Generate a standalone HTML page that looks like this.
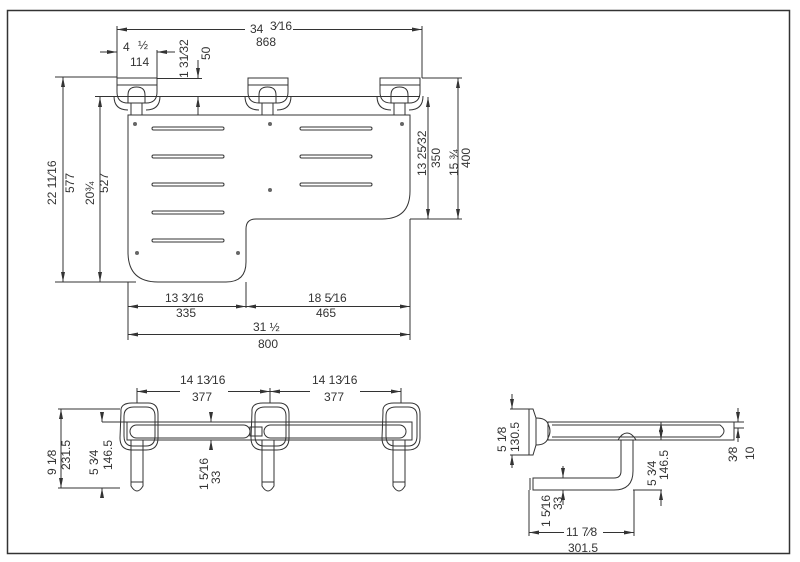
<!DOCTYPE html>
<html><head><meta charset="utf-8"><style>
html,body{margin:0;padding:0;background:#fff}
svg{display:block}
text{font-family:"Liberation Sans",sans-serif;font-size:12px;fill:#333}
</style></head><body>
<svg width="800" height="562" viewBox="0 0 800 562" xmlns="http://www.w3.org/2000/svg">
<defs>
<marker id="a" markerWidth="10" markerHeight="6" refX="10" refY="3" orient="auto-start-reverse" markerUnits="userSpaceOnUse"><path d="M0,1 L10,3 L0,5z" fill="#333"/></marker>
</defs>
<rect x="7.5" y="10.5" width="782" height="543" fill="none" stroke="#333" stroke-width="1.5"/>
<g fill="none" stroke="#333" stroke-width="1">
<g id="br">
<path d="M117,78 H157 V92 Q157,103 146,103 H128 Q117,103 117,92 Z"/>
<line x1="117" y1="85" x2="157" y2="85"/>
<path d="M128,103 V95 Q128,87 136.5,87 Q145,87 145,95 V103"/>
<rect x="131" y="103" width="11" height="12"/>
<path d="M114,96 Q114,110 128,110 M160,96 Q160,110 146,110"/>
</g>
<use href="#br" x="131"/>
<use href="#br" x="263"/>
<line x1="95" y1="96.5" x2="420" y2="96.5"/>
<path d="M128,115 H410 V191 Q410,219 382,219 H256 Q246,219 246,229 V262 Q246,282 226,282 H158 Q128,282 128,252 Z"/>
<g fill="#666" stroke="none">
<circle cx="135" cy="124" r="2"/><circle cx="270" cy="124" r="2"/><circle cx="402" cy="124" r="2"/>
<circle cx="270" cy="190" r="2"/><circle cx="137" cy="253" r="2"/><circle cx="238" cy="253" r="2"/>
</g>
<g>
<rect x="152" y="127" width="72" height="3" rx="1.5"/>
<rect x="152" y="155" width="72" height="3" rx="1.5"/>
<rect x="152" y="183" width="72" height="3" rx="1.5"/>
<rect x="152" y="211" width="72" height="3" rx="1.5"/>
<rect x="152" y="239" width="72" height="3" rx="1.5"/>
<rect x="300" y="127" width="72" height="3" rx="1.5"/>
<rect x="300" y="155" width="72" height="3" rx="1.5"/>
<rect x="300" y="183" width="72" height="3" rx="1.5"/>
</g>
<line x1="117" y1="26" x2="117" y2="78"/><line x1="422" y1="26" x2="422" y2="78"/>
<line x1="117" y1="29.5" x2="245" y2="29.5" marker-start="url(#a)"/><line x1="293" y1="29.5" x2="422" y2="29.5" marker-end="url(#a)"/>
<line x1="157" y1="50" x2="157" y2="78"/>
<line x1="100" y1="52" x2="117" y2="52" marker-end="url(#a)"/><line x1="175" y1="52" x2="157" y2="52" marker-end="url(#a)"/>
<line x1="157" y1="78.5" x2="202" y2="78.5"/>
<line x1="198" y1="60" x2="198" y2="78" marker-end="url(#a)"/><line x1="198" y1="115" x2="198" y2="97" marker-end="url(#a)"/>
<line x1="55" y1="77" x2="117" y2="77"/><line x1="55" y1="282" x2="136" y2="282"/>
<line x1="63" y1="77" x2="63" y2="282" marker-start="url(#a)" marker-end="url(#a)"/>
<line x1="100" y1="97" x2="100" y2="282" marker-start="url(#a)" marker-end="url(#a)"/>
<line x1="410" y1="219" x2="462" y2="219"/><line x1="422" y1="78" x2="462" y2="78"/>
<line x1="428" y1="97" x2="428" y2="219" marker-start="url(#a)" marker-end="url(#a)"/>
<line x1="458" y1="78" x2="458" y2="219" marker-start="url(#a)" marker-end="url(#a)"/>
<line x1="128" y1="282" x2="128" y2="340"/><line x1="410" y1="219" x2="410" y2="340"/><line x1="246" y1="282" x2="246" y2="308"/>
<line x1="128" y1="306.5" x2="246" y2="306.5" marker-start="url(#a)" marker-end="url(#a)"/>
<line x1="246" y1="306.5" x2="410" y2="306.5" marker-start="url(#a)" marker-end="url(#a)"/>
<line x1="128" y1="334.5" x2="410" y2="334.5" marker-start="url(#a)" marker-end="url(#a)"/>

<g id="fb">
<path d="M121,412 Q120,403 132,403 H148 Q158,403 158,414 V438 Q158,450 146,450 H132 Q120,450 120,438 Z"/>
<path d="M124,416 Q124,407 134,407 H146 Q155,407 155,416 V436 Q155,446 146,446 H133 Q124,446 124,436 Z"/>
<rect x="131" y="440" width="12" height="42"/>
<path d="M131,482 V486 Q137,496 143,486 V482"/>
</g>
<use href="#fb" x="131"/>
<use href="#fb" x="262"/>
<rect x="127" y="422" width="285" height="18"/>
<rect x="130" y="425" width="120" height="13" rx="6.5"/>
<rect x="264" y="425" width="142" height="13" rx="6.5"/>
<rect x="250" y="427" width="12" height="9"/>
<line x1="137" y1="388" x2="137" y2="403"/><line x1="270" y1="388" x2="270" y2="403"/><line x1="401" y1="388" x2="401" y2="403"/>
<line x1="137" y1="391.5" x2="180" y2="391.5" marker-start="url(#a)"/><line x1="228" y1="391.5" x2="270" y2="391.5" marker-end="url(#a)"/>
<line x1="270" y1="391.5" x2="310" y2="391.5" marker-start="url(#a)"/><line x1="360" y1="391.5" x2="401" y2="391.5" marker-end="url(#a)"/>
<line x1="58" y1="409" x2="120" y2="409"/><line x1="58" y1="488" x2="120" y2="488"/>
<line x1="61" y1="409" x2="61" y2="488" marker-start="url(#a)" marker-end="url(#a)"/>
<line x1="102" y1="422" x2="127" y2="422"/><line x1="102" y1="488" x2="118" y2="488"/>
<line x1="102" y1="414" x2="102" y2="422" marker-end="url(#a)"/><line x1="102" y1="496" x2="102" y2="488" marker-end="url(#a)"/>
<line x1="211" y1="412" x2="211" y2="422" marker-end="url(#a)"/><line x1="211" y1="450" x2="211" y2="440" marker-end="url(#a)"/>

<path d="M529,409 H533 L536,418 V445 L533,455 H529 Z"/>
<path d="M536,418 Q546,418 548,424 Q552,431 548,438 Q546,445 536,445"/>
<rect x="548" y="422" width="186" height="18"/>
<path d="M552,425 H720 Q728,431 720,437 H552"/>
<path d="M618,440 Q622,433 627,433 Q632,433 636,440"/>
<path d="M621,440 V471 Q621,478 614,478 H533 V490 H614 Q633,490 633,471 V440"/>
<line x1="530" y1="478" x2="530" y2="490"/>
<line x1="510" y1="409" x2="529" y2="409"/><line x1="510" y1="455" x2="529" y2="455"/>
<line x1="512" y1="394" x2="512" y2="409" marker-end="url(#a)"/><line x1="512" y1="468" x2="512" y2="455" marker-end="url(#a)"/>
<line x1="661" y1="422" x2="661" y2="440" marker-start="url(#a)" marker-end="url(#a)"/>
<line x1="633" y1="490" x2="662" y2="490"/>
<line x1="661" y1="506" x2="661" y2="490" marker-end="url(#a)"/>
<line x1="734" y1="422" x2="744" y2="422"/><line x1="734" y1="428" x2="744" y2="428"/>
<line x1="738" y1="408" x2="738" y2="422" marker-end="url(#a)"/><line x1="738" y1="442" x2="738" y2="428" marker-end="url(#a)"/>
<line x1="563" y1="478" x2="563" y2="466" marker-start="url(#a)"/><line x1="563" y1="490" x2="563" y2="505" marker-start="url(#a)"/>
<line x1="529" y1="490" x2="529" y2="536"/><line x1="634" y1="490" x2="634" y2="536"/>
<line x1="529" y1="532.5" x2="564" y2="532.5" marker-start="url(#a)"/><line x1="603" y1="532.5" x2="634" y2="532.5" marker-end="url(#a)"/>
</g>

<text x="250" y="33">34</text><text x="270" y="30">3⁄16</text>
<text x="256" y="46">868</text>
<text x="123" y="51">4</text><text x="138" y="49">½</text>
<text x="130" y="66">114</text>
<text transform="translate(188,78) rotate(-90)">1 31⁄32</text>
<text transform="translate(210,60) rotate(-90)">50</text>
<text transform="translate(56,205) rotate(-90)">22 11⁄16</text>
<text transform="translate(74,193) rotate(-90)">577</text>
<text transform="translate(94,205) rotate(-90)">20¾</text>
<text transform="translate(108,193) rotate(-90)">527</text>
<text transform="translate(426,176) rotate(-90)">13 25⁄32</text>
<text transform="translate(440,168) rotate(-90)">350</text>
<text transform="translate(458,176) rotate(-90)">15  ¾</text>
<text transform="translate(470,168) rotate(-90)">400</text>
<text x="165" y="302">13  3⁄16</text><text x="176" y="317">335</text>
<text x="308" y="302">18  5⁄16</text><text x="316" y="317">465</text>
<text x="253" y="331">31  ½</text><text x="258" y="348">800</text>
<text x="180" y="384">14  13⁄16</text><text x="192" y="401">377</text>
<text x="312" y="384">14  13⁄16</text><text x="324" y="401">377</text>
<text transform="translate(56,475) rotate(-90)">9  1⁄8</text>
<text transform="translate(70,470) rotate(-90)">231.5</text>
<text transform="translate(98,475) rotate(-90)">5  3⁄4</text>
<text transform="translate(112,470) rotate(-90)">146.5</text>
<text transform="translate(208,490) rotate(-90)">1  5⁄16</text>
<text transform="translate(220,484) rotate(-90)">33</text>
<text transform="translate(506,452) rotate(-90)">5  1⁄8</text>
<text transform="translate(519,452) rotate(-90)">130.5</text>
<text transform="translate(656,486) rotate(-90)">5  3⁄4</text>
<text transform="translate(668,480) rotate(-90)">146.5</text>
<text transform="translate(737,462) rotate(-90)">3⁄8</text>
<text transform="translate(754,460) rotate(-90)">10</text>
<text transform="translate(550,527) rotate(-90)">1  5⁄16</text>
<text transform="translate(562,510) rotate(-90)">33</text>
<text x="566" y="536">11  7⁄8</text><text x="568" y="552">301.5</text>
</svg>
</body></html>
